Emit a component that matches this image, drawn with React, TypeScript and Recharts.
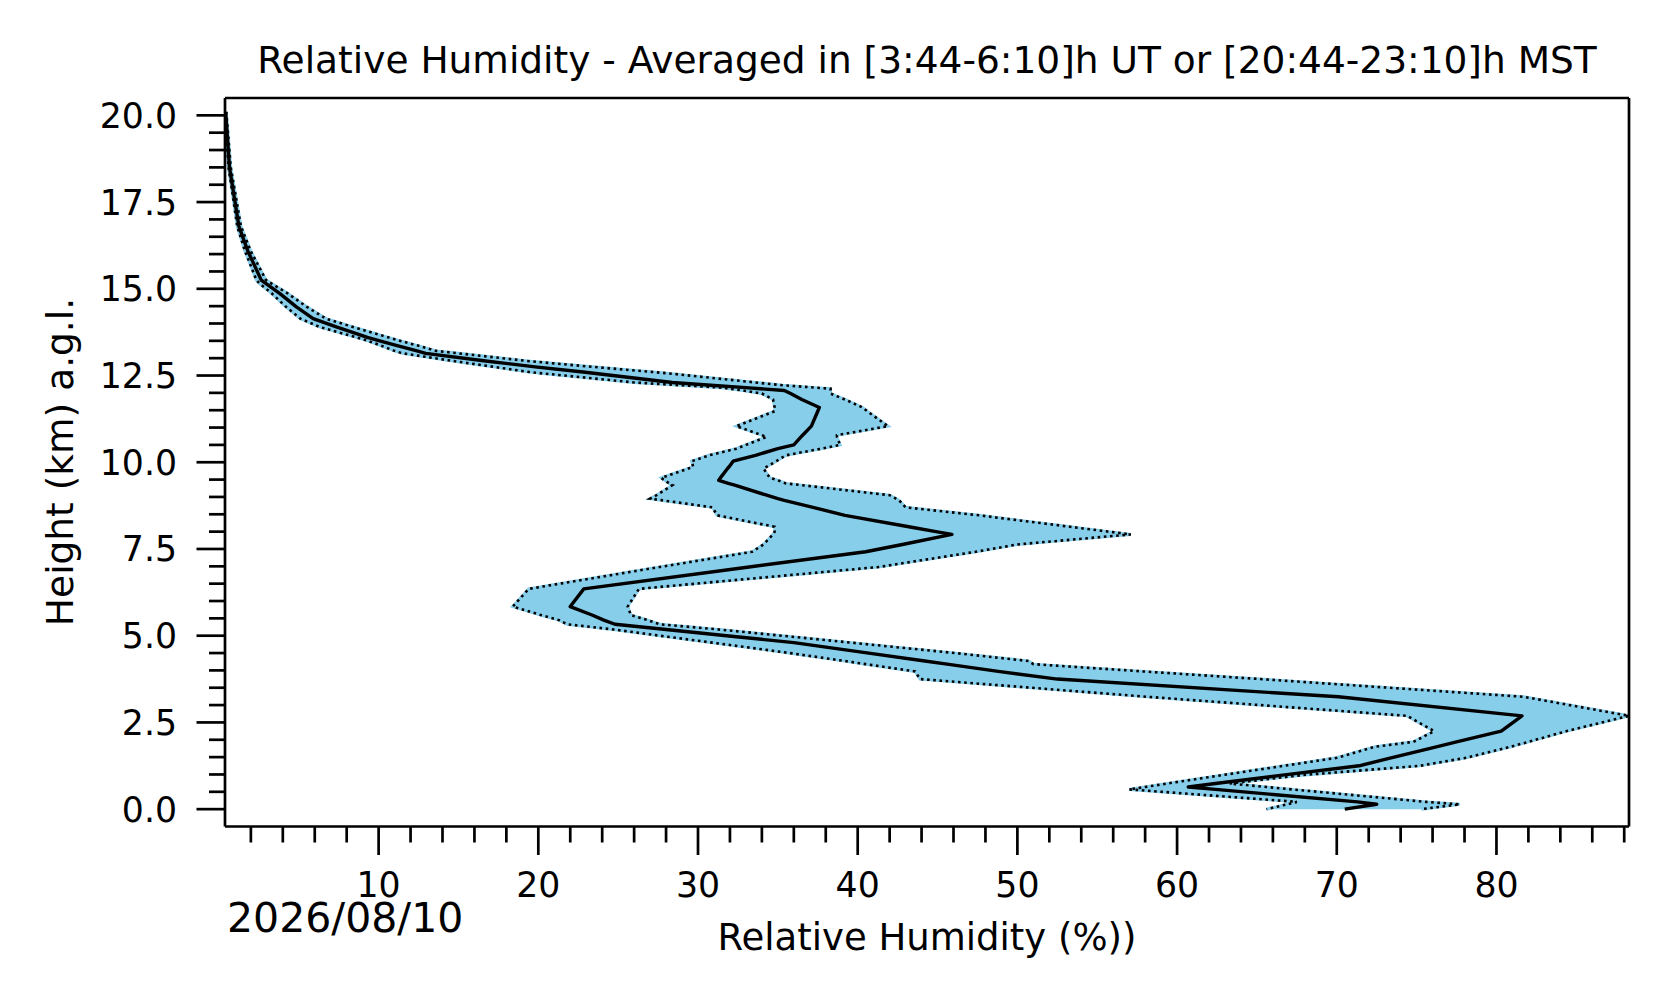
import React from 'react'
import { ComposedChart, Area, Line, XAxis, YAxis } from 'recharts'

// height levels (km a.g.l.), top of the profile first
const heights = [
  20.1, 18.5, 16.8, 16.1, 15.25, 15.15, 14.87, 14.48, 14.14, 13.9,
  13.6, 13.52, 13.37, 13.21, 13.14, 12.92, 12.75, 12.6, 12.56, 12.3,
  12.22, 12.15, 12.12, 12.07, 11.98, 11.81, 11.58, 11.47, 11.04, 10.78,
  10.73, 10.5, 10.39, 10.2, 10.03, 9.87, 9.82, 9.55, 9.48, 9.39,
  9.34, 9.05, 8.95, 8.9, 8.7, 8.47, 8.14, 8.0, 7.92, 7.63,
  7.42, 6.98, 6.35, 5.84, 5.59, 5.45, 5.33, 5.18, 4.97, 4.8,
  4.49, 4.27, 4.18, 3.97, 3.75, 3.24, 2.69, 2.25, 1.94, 1.8,
  1.48, 1.25, 0.98, 0.74, 0.64, 0.57, 0.21, 0.14, 0.0,
]

// lower edge of the spread (%)
const rhLow = [
  0.38, 0.6, 1.15, 1.62, 2.35, 2.55, 3.3, 4.2, 5.1, 6.3,
  8.6, 9.2, 10.1, 11.0, 11.5, 14.65, 17.2, 19.45, 20.3, 26.0,
  28.9, 31.5, 32.0, 32.8, 34.0, 34.7, 34.8, 34.8, 32.4, 34.0,
  34.3, 33.0, 32.4, 30.7, 29.6, 29.7, 29.4, 27.7, 27.9, 28.2,
  28.4, 27.4, 27.0, 27.8, 30.9, 31.2, 34.8, 34.8, 34.7, 34.1,
  33.4, 27.6, 19.4, 18.4, 20.2, 21.3, 21.8, 24.7, 28.1, 30.9,
  35.9, 39.2, 40.5, 43.6, 43.9, 58.1, 74.4, 76.1, 74.8, 72.4,
  70.0, 66.7, 62.8, 59.4, 58.0, 57.0, 67.5, 66.9, 65.6,
]

// averaged profile (%)
const rhMean = [
  0.42, 0.66, 1.25, 1.8, 2.65, 2.95, 3.8, 4.85, 5.9, 7.35,
  9.3, 9.9, 11.1, 12.4, 12.95, 16.7, 19.8, 22.8, 23.6, 28.4,
  30.8, 33.0, 33.9, 35.4, 35.8, 36.5, 37.6, 37.5, 37.1, 36.55,
  36.45, 36.0, 35.0, 33.6, 32.2, 31.95, 31.85, 31.4, 31.3, 31.9,
  32.3, 34.3, 35.0, 35.4, 37.2, 39.2, 43.2, 44.9, 45.9, 42.8,
  40.5, 33.2, 22.85, 22.0, 23.4, 24.1, 24.8, 28.0, 32.4, 36.0,
  40.8, 44.2, 45.6, 48.8, 52.5, 70.1, 81.6, 80.3, 77.5, 76.3,
  73.4, 71.4, 66.6, 62.4, 60.7, 62.4, 71.3, 72.5, 70.5,
]

// upper edge of the spread (%)
const rhHigh = [
  0.46, 0.74, 1.38, 1.98, 2.95, 3.3, 4.3, 5.5, 6.7, 8.4,
  10.6, 11.2, 12.4, 13.6, 15.0, 19.3, 23.4, 27.2, 28.2, 33.6,
  35.3, 37.4, 38.3, 38.3, 38.3, 39.2, 40.3, 40.6, 41.9, 38.7,
  38.7, 38.9, 37.7, 35.5, 34.9, 34.3, 34.1, 34.5, 35.0, 35.5,
  36.5, 42.0, 42.4, 42.6, 43.0, 47.6, 53.3, 55.7, 57.1, 50.0,
  47.4, 41.3, 26.3, 25.6, 25.8, 26.85, 27.6, 31.3, 35.9, 39.6,
  46.3, 50.7, 51.0, 57.9, 65.2, 81.7, 88.3, 84.4, 82.0, 80.9,
  78.1, 75.2, 67.8, 63.3, 65.6, 67.2, 75.6, 77.7, 75.3,
]

const xTicks = [
  2, 4, 6, 8, 10, 12, 14, 16, 18, 20, 22, 24, 26, 28, 30, 32, 34, 36, 38, 40, 42, 44,
  46, 48, 50, 52, 54, 56, 58, 60, 62, 64, 66, 68, 70, 72, 74, 76, 78, 80, 82, 84, 86, 88,
]
const xLabelled = [10, 20, 30, 40, 50, 60, 70, 80]

const yTicks = [
  0, 0.5, 1, 1.5, 2, 2.5, 3, 3.5, 4, 4.5, 5, 5.5, 6, 6.5, 7, 7.5, 8, 8.5, 9, 9.5, 10,
  10.5, 11, 11.5, 12, 12.5, 13, 13.5, 14, 14.5, 15, 15.5, 16, 16.5, 17, 17.5, 18, 18.5, 19, 19.5, 20,
]
const yLabelled = [0, 2.5, 5, 7.5, 10, 12.5, 15, 17.5, 20]

const W = 1676
const H = 1003
const FONT = '"DejaVu Sans", sans-serif'
const SKY = '#87CEEB'

const rows = heights.map((h, i) => ({
  h,
  lo: rhLow[i],
  rh: rhMean[i],
  hi: rhHigh[i],
  band: [rhLow[i], rhHigh[i]],
}))

function XTick({ x, y, payload }: any) {
  const major = xLabelled.includes(payload.value)
  return (
    <g>
      <line x1={x} x2={x} y1={y} y2={y + (major ? 28.5 : 16)} stroke="#000" strokeWidth={2.7} />
      {major && (
        <text x={x} y={y + 70.5} textAnchor="middle" fontFamily={FONT} fontSize={34.7} fill="#000">
          {payload.value}
        </text>
      )}
    </g>
  )
}

function YTick({ x, y, payload }: any) {
  const major = yLabelled.includes(payload.value)
  return (
    <g>
      <line x1={x - (major ? 28.5 : 16)} x2={x} y1={y} y2={y} stroke="#000" strokeWidth={2.7} />
      {major && (
        <text x={x - 48} y={y + 12.5} textAnchor="end" fontFamily={FONT} fontSize={34.7} fill="#000">
          {payload.value.toFixed(1)}
        </text>
      )}
    </g>
  )
}

export default function App() {
  return (
    <div style={{ position: 'absolute', left: 0, top: 0, width: W, height: H, background: '#fff' }}>
      <ComposedChart
        width={W}
        height={H}
        data={rows}
        layout="vertical"
        margin={{ top: 97, right: 46, bottom: 175.5, left: 224 }}
      >
        <XAxis
          type="number"
          domain={[0.38, 88.3]}
          allowDataOverflow
          ticks={xTicks}
          interval={0}
          height={1}
          tickSize={0}
          tickMargin={0}
          tickLine={false}
          tick={<XTick />}
          axisLine={{ stroke: '#000', strokeWidth: 2.7 }}
        />
        <XAxis
          xAxisId="top"
          orientation="top"
          type="number"
          domain={[0.38, 88.3]}
          height={1}
          tickFormatter={() => ''}
          tickLine={false}
          axisLine={{ stroke: '#000', strokeWidth: 2.7 }}
        />
        <YAxis
          type="number"
          dataKey="h"
          domain={[-0.5, 20.5]}
          reversed
          allowDataOverflow
          ticks={yTicks}
          interval={0}
          width={1}
          tickSize={0}
          tickMargin={0}
          tickLine={false}
          tick={<YTick />}
          axisLine={{ stroke: '#000', strokeWidth: 2.7 }}
        />
        <YAxis
          yAxisId="right"
          orientation="right"
          type="number"
          domain={[-0.5, 20.5]}
          reversed
          width={1}
          tickFormatter={() => ''}
          tickLine={false}
          axisLine={{ stroke: '#000', strokeWidth: 2.7 }}
        />
        <Area
          dataKey="band"
          type="linear"
          fill={SKY}
          fillOpacity={1}
          stroke={SKY}
          strokeWidth={3}
          isAnimationActive={false}
          activeDot={false}
          dot={false}
        />
        <Line
          dataKey="lo"
          type="linear"
          stroke="#000"
          strokeWidth={2.6}
          strokeDasharray="2.6 3.6"
          dot={false}
          activeDot={false}
          isAnimationActive={false}
        />
        <Line
          dataKey="hi"
          type="linear"
          stroke="#000"
          strokeWidth={2.6}
          strokeDasharray="2.6 3.6"
          dot={false}
          activeDot={false}
          isAnimationActive={false}
        />
        <Line
          dataKey="rh"
          type="linear"
          stroke="#000"
          strokeWidth={3.4}
          strokeLinejoin="round"
          dot={false}
          activeDot={false}
          isAnimationActive={false}
        />
      </ComposedChart>
      <svg
        width={W}
        height={H}
        style={{ position: 'absolute', left: 0, top: 0, pointerEvents: 'none' }}
        fontFamily={FONT}
      >
        <text x={927} y={73} textAnchor="middle" fontSize={37.5} fill="#000">
          Relative Humidity - Averaged in [3:44-6:10]h UT or [20:44-23:10]h MST
        </text>
        <text x={73} y={462} textAnchor="middle" fontSize={37.5} fill="#000" transform="rotate(-90 73 462)">
          Height (km) a.g.l.
        </text>
        <text x={927} y={950} textAnchor="middle" fontSize={37} fill="#000">
          Relative Humidity (%))
        </text>
        <text x={227} y={932} textAnchor="start" fontSize={41} fill="#000">
          2026/08/10
        </text>
      </svg>
    </div>
  )
}
